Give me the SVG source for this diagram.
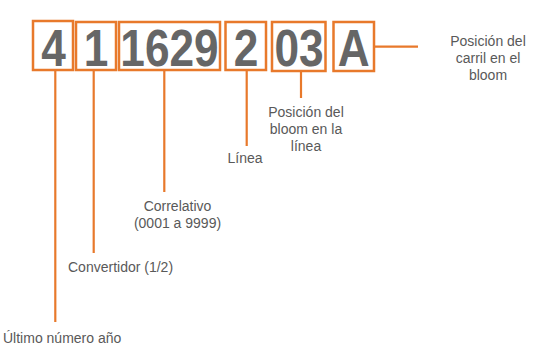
<svg xmlns="http://www.w3.org/2000/svg" width="541" height="361" viewBox="0 0 541 361">
<style>
.box{fill:none;stroke:#E8792B;stroke-width:2.5}
.code{font-family:"Liberation Sans",Arial,sans-serif;font-weight:bold;font-size:52px;fill:#666666;text-anchor:middle}
.lbl{font-family:"Liberation Sans",Arial,sans-serif;font-size:14px;fill:#595959}
.mid{text-anchor:middle}
.con line{stroke:#E8792B;stroke-width:2.2}
</style>
<rect width="541" height="361" fill="#ffffff"/>
<g id="d4"><rect class="box" x="33" y="21" width="40" height="49"/><text class="code" x="53.5" y="65.5" textLength="24.6" lengthAdjust="spacingAndGlyphs">4</text></g>
<g id="d1"><rect class="box" x="76" y="22" width="40" height="48"/><text class="code" x="96" y="65.5" textLength="24.6" lengthAdjust="spacingAndGlyphs">1</text></g>
<g id="d1629"><rect class="box" x="119" y="22" width="101" height="48"/><text class="code" x="169.5" y="65.5" textLength="98.3" lengthAdjust="spacingAndGlyphs">1629</text></g>
<g id="d2"><rect class="box" x="225.5" y="22" width="40.5" height="48"/><text class="code" x="246" y="65.5" textLength="24.6" lengthAdjust="spacingAndGlyphs">2</text></g>
<g id="d03"><rect class="box" x="272" y="22" width="53.5" height="49"/><text class="code" x="299" y="65.5" textLength="49.2" lengthAdjust="spacingAndGlyphs">03</text></g>
<g id="dA"><rect class="box" x="333.5" y="22" width="40.5" height="49"/><text class="code" x="353.7" y="65.5" textLength="31.9" lengthAdjust="spacingAndGlyphs">A</text></g>
<g id="connectors" class="con">
<line x1="55.3" y1="70" x2="55.3" y2="322"/>
<line x1="93.7" y1="70" x2="93.7" y2="253"/>
<line x1="164.3" y1="70" x2="164.3" y2="192"/>
<line x1="246.7" y1="70" x2="246.7" y2="146"/>
<line x1="301" y1="71" x2="301" y2="98"/>
<line x1="374" y1="46.7" x2="418" y2="46.7"/>
</g>
<g id="lblA"><text class="lbl mid" x="488" y="46"><tspan x="488">Posición del</tspan><tspan x="488" dy="17">carril en el</tspan><tspan x="488" dy="17">bloom</tspan></text></g>
<g id="lbl03"><text class="lbl mid" x="306" y="117"><tspan x="306">Posición del</tspan><tspan x="306" dy="17">bloom en la</tspan><tspan x="306" dy="17">línea</tspan></text></g>
<g id="lbl2"><text class="lbl mid" x="245" y="163">Línea</text></g>
<g id="lbl1629"><text class="lbl mid" x="177.5" y="211"><tspan x="177.5">Correlativo</tspan><tspan x="177.5" dy="17">(0001 a 9999)</tspan></text></g>
<g id="lbl1"><text class="lbl" x="68" y="272">Convertidor (1/2)</text></g>
<g id="lbl4"><text class="lbl" x="3" y="343">Último número año</text></g>
</svg>
